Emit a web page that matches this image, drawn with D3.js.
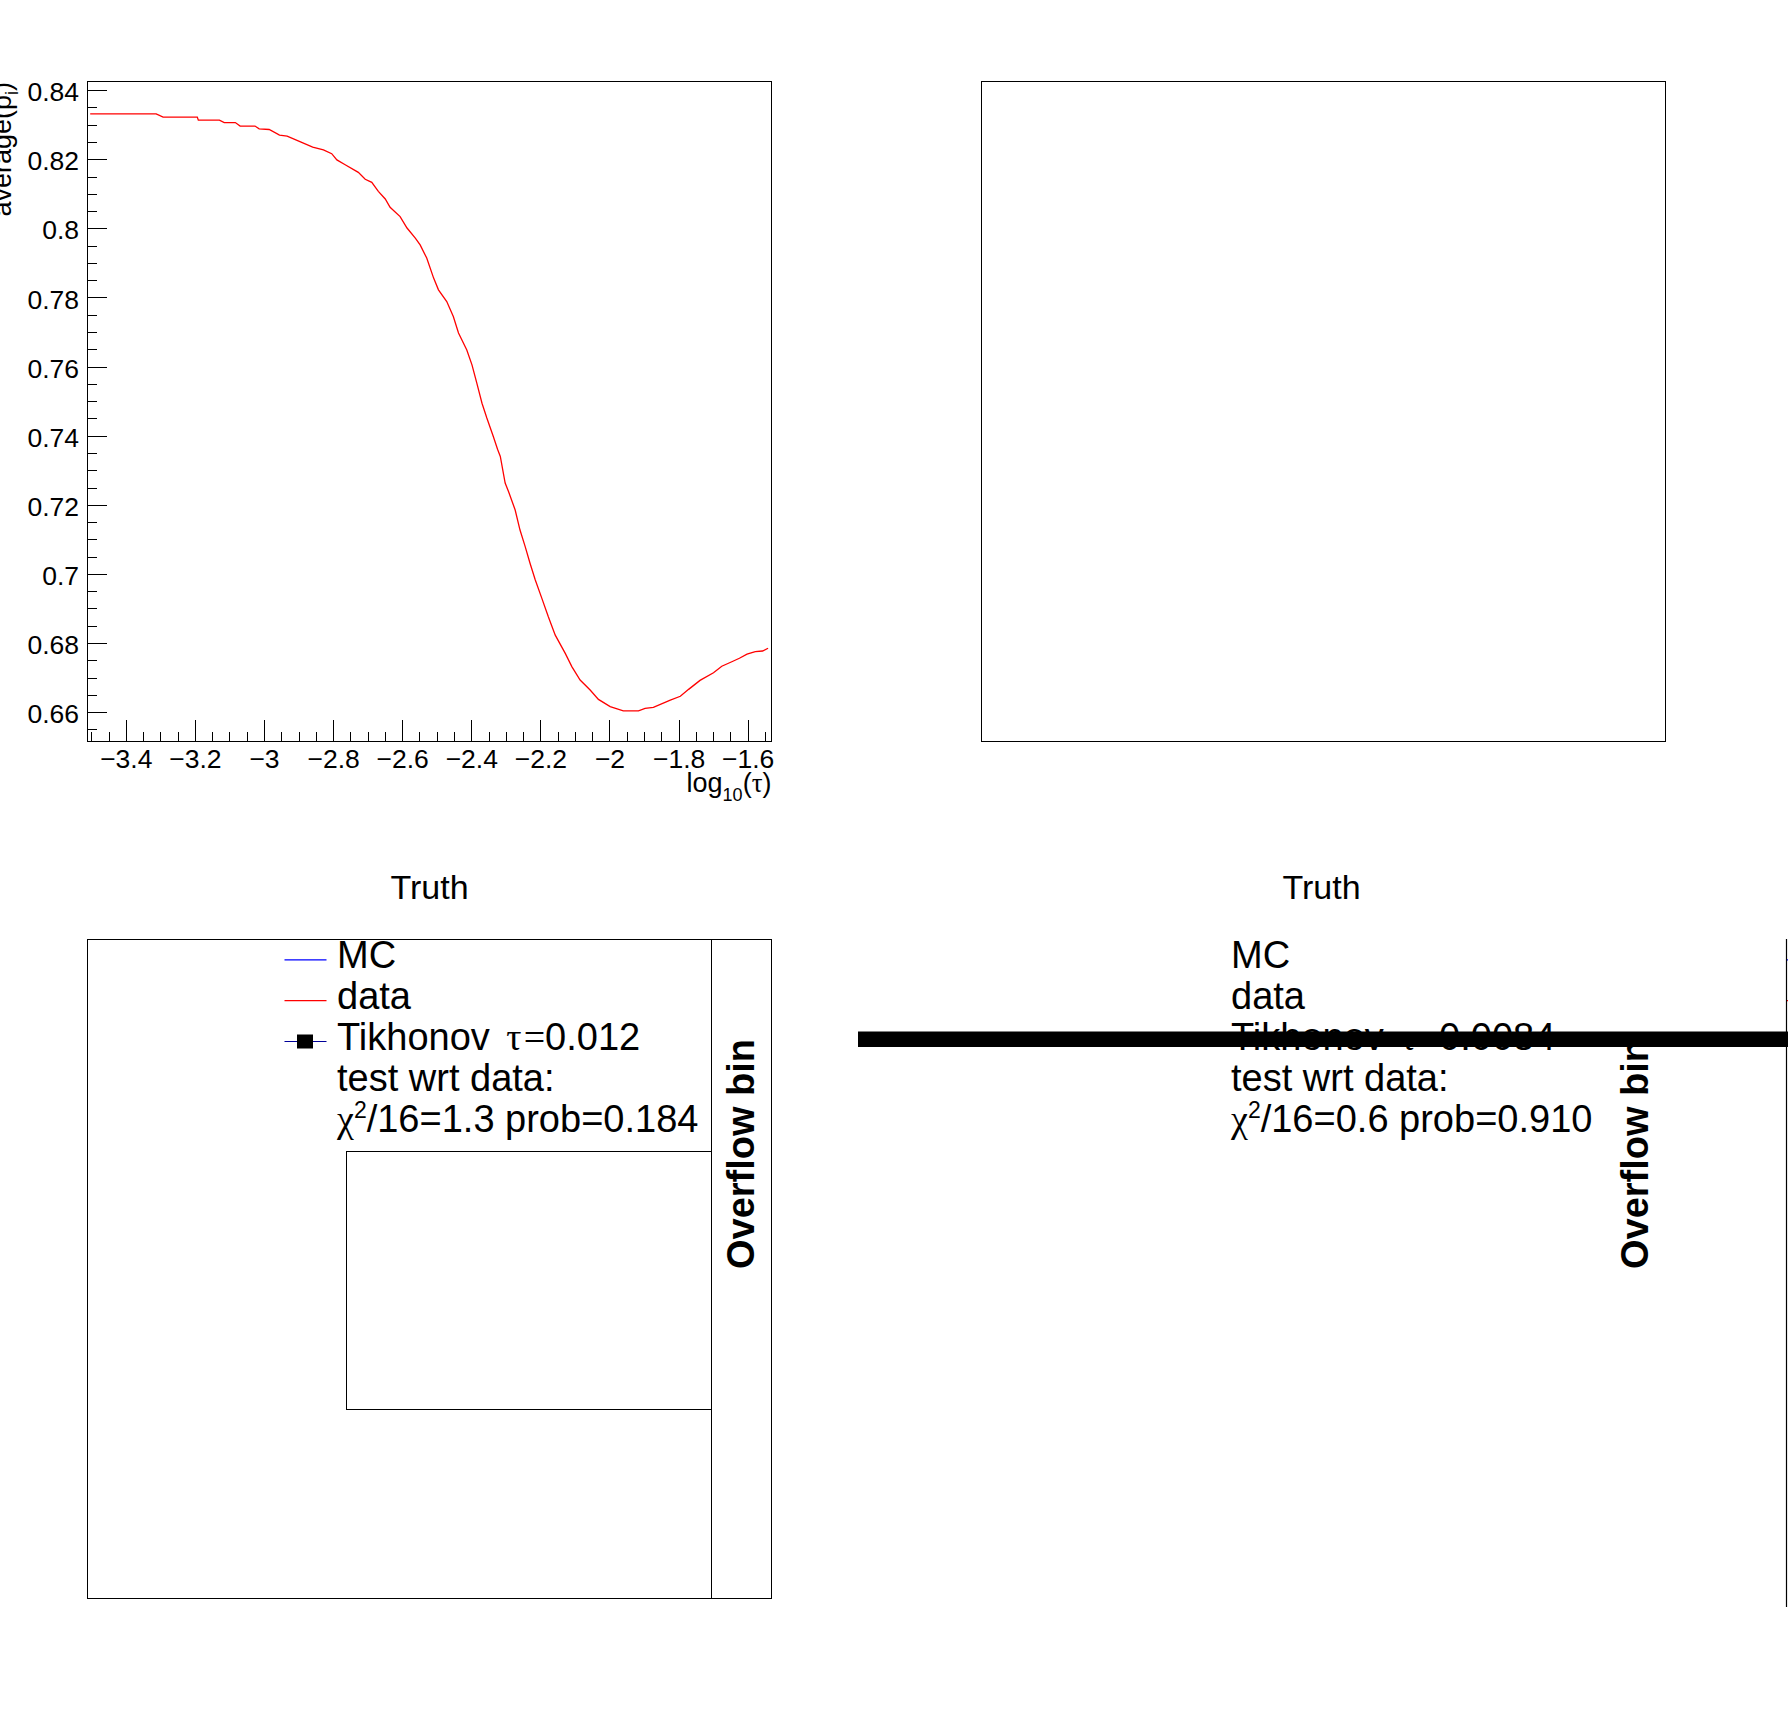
<!DOCTYPE html>
<html>
<head>
<meta charset="utf-8">
<script src="https://cdn.jsdelivr.net/npm/d3@7"></script>
<style>
  html, body { margin: 0; padding: 0; background: #fff; }
  svg { display: block; }
  text { font-family: "Liberation Sans", Arial, Helvetica, sans-serif; fill: #000; }
  .sym { font-family: "Liberation Serif", "Times New Roman", serif; }
</style>
</head>
<body>
<div id="canvas"></div>
<script>
/*
* DATA
*/

// L-curve scan: log10(tau) vs average global correlation
var tauLog = [-3.503, -3.312, -3.292, -3.193, -3.190, -3.129, -3.115, -3.083, -3.069, -3.026,
  -3.014, -2.985, -2.955, -2.933, -2.896, -2.859, -2.828, -2.804, -2.789, -2.765,
  -2.727, -2.707, -2.688, -2.669, -2.649, -2.635, -2.606, -2.586, -2.562, -2.548,
  -2.529, -2.509, -2.495, -2.471, -2.452, -2.437, -2.413, -2.398, -2.384, -2.369,
  -2.355, -2.336, -2.324, -2.316, -2.302, -2.292, -2.273, -2.259, -2.244, -2.230,
  -2.215, -2.196, -2.177, -2.157, -2.128, -2.109, -2.085, -2.056, -2.032, -1.998,
  -1.960, -1.916, -1.897, -1.873, -1.824, -1.795, -1.771, -1.738, -1.699, -1.675,
  -1.646, -1.624, -1.602, -1.578, -1.557, -1.541];
var avgRho = [0.8331, 0.8331, 0.8322, 0.8322, 0.8313, 0.8313, 0.8306, 0.8306, 0.8296, 0.8296,
  0.8288, 0.8286, 0.8270, 0.8267, 0.8251, 0.8235, 0.8227, 0.8216, 0.8198, 0.8184,
  0.8162, 0.8142, 0.8133, 0.8107, 0.8085, 0.8061, 0.8034, 0.8001, 0.7972, 0.7952,
  0.7914, 0.7856, 0.7822, 0.7788, 0.7745, 0.7697, 0.7648, 0.7605, 0.7552, 0.7494,
  0.7451, 0.7397, 0.7361, 0.7340, 0.7263, 0.7238, 0.7185, 0.7127, 0.7079, 0.7031,
  0.6983, 0.6930, 0.6876, 0.6823, 0.6770, 0.6732, 0.6693, 0.6664, 0.6637, 0.6616,
  0.6604, 0.6604, 0.6611, 0.6614, 0.6635, 0.6646, 0.6666, 0.6692, 0.6714, 0.6733,
  0.6746, 0.6756, 0.6768, 0.6775, 0.6777, 0.6785];

var xRange = [-3.5108, -1.5311];
var yRange = [0.65166, 0.84249];
var xMajor = [-3.4, -3.2, -3.0, -2.8, -2.6, -2.4, -2.2, -2.0, -1.8, -1.6];
var yMajor = [0.66, 0.68, 0.70, 0.72, 0.74, 0.76, 0.78, 0.80, 0.82, 0.84];

var legendColors = ['#0000ff', '#ff0000', '#000099'];
var chi2Left = {tau: '0.012', chi: '1.3', prob: '0.184'};
var chi2Right = {tau: '0.0084', chi: '0.6', prob: '0.910'};

/*
* LAYOUT
*/
var W = 1788, H = 1716;
var fx0 = 87.5, fx1 = 771.5, fy0 = 81.5, fy1 = 741;   // top-left frame
var dxRight = 894;                                    // offset of right column
var by0 = 939.5, by1 = 1598;                          // bottom frames

var svg = d3.select('#canvas').append('svg')
  .attr('width', W)
  .attr('height', H);

svg.append('rect').attr('width', W).attr('height', H).attr('fill', '#fff');

/*
* PAD 1: average rho vs log10(tau)
*/
var x = d3.scaleLinear().domain(xRange).range([fx0, fx1]);
var y = d3.scaleLinear().domain(yRange).range([fy1, fy0]);

var fmtX = function(d) { return (d < 0 ? '\u2212' : '') + Math.abs(+d.toFixed(1)); };
var fmtY = function(d) { return String(+d.toFixed(2)); };

var xMinor = d3.range(-3.50, -1.53, 0.05).map(function(d) { return +d.toFixed(2); });
var yMinor = d3.range(0.655, 0.8401, 0.005).map(function(d) { return +d.toFixed(3); });

// minor ticks first, no labels
svg.append('g')
  .attr('transform', 'translate(0,' + fy1 + ')')
  .call(d3.axisBottom(x).tickValues(xMinor).tickSize(-9.5).tickFormat(''))
  .call(function(g) { g.select('.domain').remove(); });
svg.append('g')
  .attr('transform', 'translate(' + fx0 + ',0)')
  .call(d3.axisLeft(y).tickValues(yMinor).tickSize(-9.5).tickFormat(''))
  .call(function(g) { g.select('.domain').remove(); });

var xAxis = svg.append('g')
  .attr('transform', 'translate(0,' + fy1 + ')')
  .call(d3.axisBottom(x).tickValues(xMajor).tickSize(-21).tickPadding(8).tickFormat(fmtX));
xAxis.select('.domain').remove();

var yAxis = svg.append('g')
  .attr('transform', 'translate(' + fx0 + ',0)')
  .call(d3.axisLeft(y).tickValues(yMajor).tickSize(-19).tickPadding(8.5).tickFormat(fmtY));
yAxis.select('.domain').remove();
yAxis.selectAll('text').attr('dy', '0.40em');

svg.selectAll('.tick line').attr('stroke', '#000').attr('stroke-width', 1).attr('shape-rendering', 'crispEdges');
svg.selectAll('.tick text')
  .style('font-family', '"Liberation Sans", Arial, sans-serif')
  .style('font-size', '26.5px')
  .attr('fill', '#000');

svg.append('rect')
  .attr('x', fx0).attr('y', fy0)
  .attr('width', fx1 - fx0).attr('height', fy1 - fy0)
  .attr('fill', 'none').attr('stroke', '#000').attr('stroke-width', 1)
  .attr('shape-rendering', 'crispEdges');

var line = d3.line()
  .x(function(d) { return x(d[0]); })
  .y(function(d) { return y(d[1]); });

svg.append('path')
  .datum(d3.zip(tauLog, avgRho))
  .attr('d', line)
  .attr('fill', 'none')
  .attr('stroke', '#ff0000')
  .attr('stroke-width', 1.3);

// axis titles
var xt = svg.append('text')
  .attr('x', fx1).attr('y', 792)
  .attr('text-anchor', 'end')
  .style('font-size', '27px');
xt.append('tspan').text('log');
xt.append('tspan').attr('dy', 9).style('font-size', '18px').text('10');
xt.append('tspan').attr('dy', -9).text('(');
xt.append('tspan').attr('class', 'sym').text('\u03c4');
xt.append('tspan').text(')');

var yt = svg.append('text')
  .attr('transform', 'translate(11,' + (fy0 + 0.5) + ') rotate(-90)')
  .attr('text-anchor', 'end')
  .style('font-size', '27px');
yt.append('tspan').text('average(p');
yt.append('tspan').attr('dy', 7).style('font-size', '18px').text('i');
yt.append('tspan').attr('dy', -7).text(')');

/*
* PAD 2: empty frame
*/
svg.append('rect')
  .attr('x', fx0 + dxRight).attr('y', fy0)
  .attr('width', fx1 - fx0).attr('height', fy1 - fy0)
  .attr('fill', 'none').attr('stroke', '#000').attr('stroke-width', 1)
  .attr('shape-rendering', 'crispEdges');

/*
* PADS 3 + 4: truth with legend
*/
var rowY = d3.scalePoint().domain([0, 1, 2, 3, 4]).range([968.3, 1131.7]);

function legend(ox, info, withSymbols) {
  var tx = ox + 249.5;
  var labels = ['MC', 'data'];
  labels.forEach(function(l, i) {
    svg.append('text').attr('x', tx).attr('y', rowY(i)).style('font-size', '38px').text(l);
  });

  var t = svg.append('text').attr('x', tx).attr('y', rowY(2)).style('font-size', '38px');
  t.append('tspan').text('Tikhonov ');
  t.append('tspan').attr('class', 'sym').attr('dx', 6).text('\u03c4');
  t.append('tspan').attr('class', 'sym').attr('dx', 2).text('=');
  t.append('tspan').text(info.tau);

  svg.append('text').attr('x', tx).attr('y', rowY(3)).style('font-size', '38px').text('test wrt data:');

  var c = svg.append('text').attr('x', tx).attr('y', rowY(4)).style('font-size', '38px');
  c.append('tspan').attr('class', 'sym').text('\u03c7');
  c.append('tspan').attr('dy', -14).style('font-size', '23px').text('2');
  c.append('tspan').attr('dy', 14).text('/16=' + info.chi + ' prob=' + info.prob);

  if (withSymbols) {
    legendColors.forEach(function(col, i) {
      svg.append('line')
        .attr('x1', ox + 197).attr('x2', ox + 239)
        .attr('y1', rowY(i) - 8.5).attr('y2', rowY(i) - 8.5)
        .attr('stroke', col).attr('stroke-width', 1.2);
    });
    svg.append('rect')
      .attr('x', ox + 209.5).attr('y', rowY(2) - 15.5)
      .attr('width', 16).attr('height', 14)
      .attr('fill', '#000');
  }

  svg.append('text')
    .attr('transform', 'translate(' + (ox + 666.5) + ',1154) rotate(-90)')
    .attr('text-anchor', 'middle')
    .style('font-size', '38px')
    .style('font-weight', 'bold')
    .text('Overflow bin');
}

// pad 3
svg.append('text')
  .attr('x', (fx0 + fx1) / 2).attr('y', 899)
  .attr('text-anchor', 'middle')
  .style('font-size', '34px')
  .text('Truth');

svg.append('rect')
  .attr('x', fx0).attr('y', by0)
  .attr('width', fx1 - fx0).attr('height', by1 - by0)
  .attr('fill', 'none').attr('stroke', '#000').attr('stroke-width', 1)
  .attr('shape-rendering', 'crispEdges');
svg.append('line')
  .attr('x1', 711.5).attr('x2', 711.5).attr('y1', by0).attr('y2', by1)
  .attr('stroke', '#000').attr('shape-rendering', 'crispEdges');
svg.append('rect')
  .attr('x', 346).attr('y', 1151.5)
  .attr('width', 711.5 - 346).attr('height', 1409.5 - 1151.5)
  .attr('fill', 'none').attr('stroke', '#000').attr('stroke-width', 1)
  .attr('shape-rendering', 'crispEdges');

legend(fx0, chi2Left, true);

// pad 4
svg.append('text')
  .attr('x', (fx0 + fx1) / 2 + dxRight - 2).attr('y', 899)
  .attr('text-anchor', 'middle')
  .style('font-size', '34px')
  .text('Truth');

legend(fx0 + dxRight, chi2Right, false);

// clipped legend markers and frame edge at right border
legendColors.slice(0, 2).forEach(function(col, i) {
  svg.append('line')
    .attr('x1', 1786.5).attr('x2', 1790)
    .attr('y1', rowY(i) - 8.5).attr('y2', rowY(i) - 8.5)
    .attr('stroke', col).attr('stroke-width', 1.2);
});
svg.append('line')
  .attr('x1', 1786.5).attr('x2', 1786.5).attr('y1', 939).attr('y2', 1607)
  .attr('stroke', '#000').attr('stroke-width', 1.2);

// heavy marker line drawn across pad 4
svg.append('rect')
  .attr('x', 858).attr('y', 1031.5)
  .attr('width', W - 858).attr('height', 15.5)
  .attr('fill', '#000');
</script>
</body>
</html>
